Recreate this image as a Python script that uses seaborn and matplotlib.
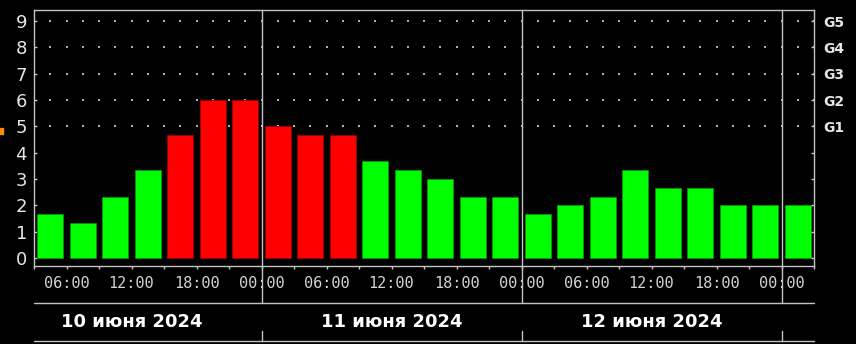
import matplotlib
matplotlib.use("Agg")
import matplotlib.pyplot as plt
import matplotlib.patches as mpatches
import seaborn as sns
import numpy as np
import pandas as pd

# ---- data ----
start_hour = 3          # first bar starts 10 June 03:00, 3-hour bins
bin_hours = 3
kp_values = [1.67, 1.33, 2.33, 3.33, 4.67, 6.0, 6.0,
             5.0, 4.67, 4.67, 3.67, 3.33, 3.0, 2.33, 2.33,
             1.67, 2.0, 2.33, 3.33, 2.67, 2.67, 2.0, 2.0,
             2.0]
day_labels = ["10 июня 2024", "11 июня 2024", "12 июня 2024"]
g_labels = ["G1", "G2", "G3", "G4", "G5"]
storm_threshold = 4.5

df = pd.DataFrame({
    "idx": np.arange(len(kp_values)),
    "kp": kp_values,
})
df["level"] = np.where(df["kp"] >= storm_threshold, "storm", "quiet")

GREEN = "#00ff00"
RED = "#ff0000"
GRID = "#b0b0b0"

sns.set_theme(style="white")
plt.rcParams["font.family"] = ["DejaVu Sans"]

fig = plt.figure(figsize=(8.56, 3.44), dpi=100, facecolor="black")
ax = fig.add_axes([34 / 856, 78 / 344, 780 / 856, 256 / 344])
ax.set_facecolor("black")

n = len(kp_values)
ax.set_xlim(-0.5, n - 0.5)
ax.set_ylim(-0.30, 9.42)

# dotted grid at Kp 5..9 (behind bars)
gx, gy = np.meshgrid(np.arange(-0.5, n - 0.4, 0.5), np.arange(5, 10))
ax.scatter(gx.ravel(), gy.ravel(), s=0.55, marker="s", color=GRID,
           linewidths=0, zorder=1)

sns.barplot(data=df, x="idx", y="kp", hue="level",
            palette={"quiet": GREEN, "storm": RED}, saturation=1,
            dodge=False, width=0.815, legend=False, ax=ax,
            native_scale=True, zorder=2)
for p in ax.patches:
    fc = p.get_facecolor()
    edge = (fc[0] * 0.6, fc[1] * 0.6, fc[2] * 0.6, 1)
    p.set_edgecolor(edge)
    p.set_linewidth(0.6)
    p.set_zorder(2)

ax.set_xlim(-0.5, n - 0.5)
ax.set_xlabel("")
ax.set_ylabel("")

# spines
for s in ax.spines.values():
    s.set_color("#c4c4c4")
    s.set_linewidth(1.0)

# x ticks at each 3h boundary, labels every 6h
tick_pos = np.arange(-0.5, n, 1.0)
tick_hours = [(start_hour + bin_hours * k) % 24 for k in range(len(tick_pos))]
tick_lbl = [f"{h:02d}:00" if h % 6 == 0 else "" for h in tick_hours]
ax.set_xticks(tick_pos)
ax.set_xticklabels(tick_lbl, fontsize=11, color="#d4d4d4",
                   family="DejaVu Sans Mono")
ax.tick_params(axis="x", direction="out", length=2.4, width=1,
               color="#c4c4c4", pad=4.5, bottom=True)

# left y ticks
ax.set_yticks(range(0, 10))
ax.set_yticklabels([str(i) for i in range(10)], fontsize=13, color="#e6e6e6")
ax.tick_params(axis="y", direction="in", length=2.4, width=1,
               color="#c4c4c4", pad=5, left=True)

# right axis with G levels
ax2 = ax.twinx()
ax2.set_ylim(ax.get_ylim())
ax2.set_yticks(range(0, 10))
ax2.set_yticklabels([""] * 5 + g_labels, fontsize=10, fontweight="bold",
                    color="#e6e6e6")
ax2.tick_params(axis="y", direction="in", length=2.4, width=1,
                color="#c4c4c4", pad=6.5, right=True)
for s in ax2.spines.values():
    s.set_visible(False)
ax2.grid(False)
ax.grid(False)

# day boundaries (midnights)
hours_per_day = 24
bars_per_day = hours_per_day // bin_hours
first_midnight = (hours_per_day - start_hour) / bin_hours - 0.5
day_lines = [first_midnight + d * bars_per_day for d in range(3)]
trans = ax.get_xaxis_transform()
y_line1 = (266 - 303) / 256
y_seg_top = (266 - 331) / 256
y_line2 = (266 - 341) / 256
for xl in day_lines:
    ax.plot([xl, xl], [1.0, y_line1], transform=trans, color="#c4c4c4",
            lw=1.0, clip_on=False, zorder=5)
    ax.plot([xl, xl], [y_seg_top, y_line2], transform=trans, color="#c4c4c4",
            lw=1.0, clip_on=False, zorder=5)

for yy in (y_line1, y_line2):
    ax.plot([0, 1], [yy, yy], transform=ax.transAxes, color="#c4c4c4",
            lw=1.0, clip_on=False)

# date labels centred on each day
y_date = (266 - 322) / 256
for d, lbl in enumerate(day_labels):
    xc = first_midnight - bars_per_day / 2 + d * bars_per_day
    ax.text(xc, y_date, lbl, transform=trans, ha="center", va="center",
            fontsize=13, fontweight="bold", color="white")

# small orange mark at the left edge
fig.patches.append(mpatches.Rectangle((0, (344 - 134) / 344), 2.5 / 856, 6 / 344,
                                      transform=fig.transFigure,
                                      color="#ff8c00", zorder=10))

fig.savefig("out.png", dpi=100, facecolor="black")
